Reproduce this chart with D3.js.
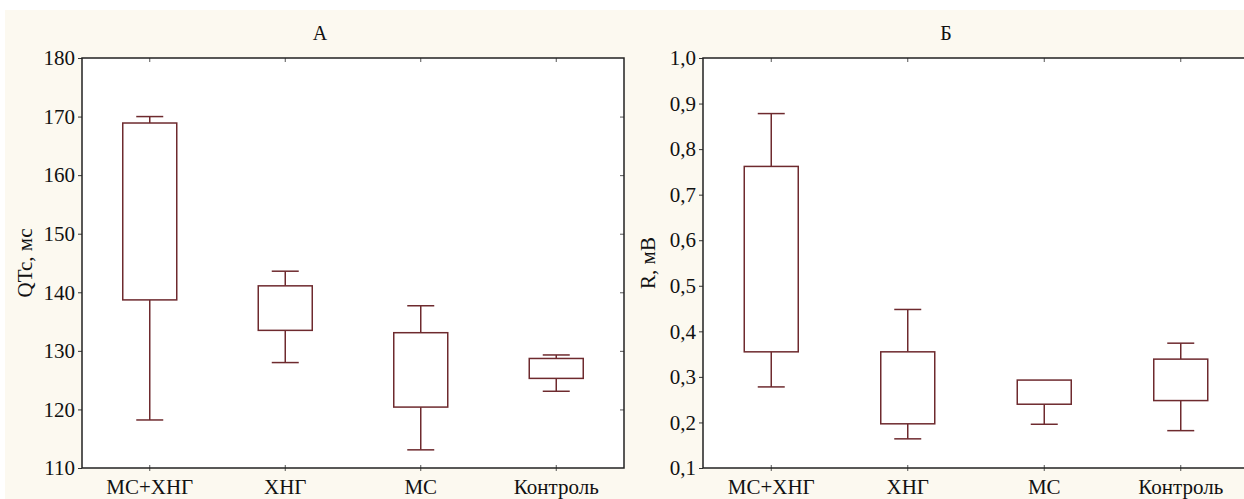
<!DOCTYPE html>
<html>
<head>
<meta charset="utf-8">
<script src="https://cdn.jsdelivr.net/npm/d3@7"></script>
<style>
  html, body { margin: 0; padding: 0; background: #ffffff; }
  svg { display: block; }
  text { font-family: "Liberation Serif", "Times New Roman", serif; fill: #111; }
</style>
</head>
<body>
<svg id="chart" width="1244" height="499"></svg>
<script>
// ---- data ----
const categories = ["МС+ХНГ", "ХНГ", "МС", "Контроль"];

// Panel A: QTc, ms
const qtcMin = [118.2, 128.0, 113.1, 123.1];
const qtcQ1  = [138.7, 133.5, 120.4, 125.3];
const qtcQ3  = [168.9, 141.1, 133.1, 128.7];
const qtcMax = [170.0, 143.6, 137.7, 129.3];
const qtcTicks = [110, 120, 130, 140, 150, 160, 170, 180];

// Panel Б: R, mV
const rMin = [0.278, 0.164, 0.196, 0.182];
const rQ1  = [0.355, 0.197, 0.240, 0.248];
const rQ3  = [0.762, 0.355, 0.293, 0.339];
const rMax = [0.878, 0.448, 0.293, 0.374];
const rTicks = [0.1, 0.2, 0.3, 0.4, 0.5, 0.6, 0.7, 0.8, 0.9, 1.0];

const svg = d3.select("#chart");
const boxColor = "#6e2a2e";
const FONT = "'Liberation Serif', 'Times New Roman', serif";

svg.append("rect").attr("x", 5).attr("y", 10).attr("width", 1239).attr("height", 489)
  .attr("fill", "#fcf9f0");

function panel(opts) {
  const { x0, x1, y0, y1, domain, ticks, fmt, mins, q1s, q3s, maxs, title, titleX, ylabel, ylabelX } = opts;
  const x = d3.scaleBand().domain(categories).range([x0, x1]).padding(0);
  const y = d3.scaleLinear().domain(domain).range([y1, y0]);
  const g = svg.append("g");

  g.append("rect").attr("x", x0).attr("y", y0).attr("width", x1 - x0).attr("height", y1 - y0)
    .attr("fill", "#ffffff");

  // left axis (outward ticks)
  const la = g.append("g").attr("transform", `translate(${x0},0)`)
    .call(d3.axisLeft(y).tickValues(ticks).tickSize(4).tickPadding(3).tickFormat(fmt));
  la.attr("font-family", null).attr("font-size", null);
  la.select(".domain").remove();
  la.selectAll("line").attr("stroke", "#333");
  la.selectAll("text").attr("font-size", 21).attr("fill", "#111").style("font-family", FONT);

  // right axis inner ticks
  const ra = g.append("g").attr("transform", `translate(${x1},0)`)
    .call(d3.axisLeft(y).tickValues(ticks.slice(1, -1)).tickSize(4).tickFormat(""));
  ra.select(".domain").remove();
  ra.selectAll("line").attr("stroke", "#555");

  // top inner ticks
  const ta = g.append("g").attr("transform", `translate(0,${y0})`)
    .call(d3.axisBottom(x).tickSize(4).tickFormat(""));
  ta.select(".domain").remove();
  ta.selectAll("line").attr("stroke", "#555");

  // bottom axis with labels
  const ba = g.append("g").attr("transform", `translate(0,${y1})`)
    .call(d3.axisBottom(x).tickSize(4).tickPadding(7));
  ba.attr("font-family", null).attr("font-size", null);
  ba.select(".domain").remove();
  ba.selectAll("line").attr("stroke", "#555").attr("y1", -3).attr("y2", 3);
  ba.selectAll("text").attr("font-size", 21).attr("fill", "#111").style("font-family", FONT);

  // frame
  g.append("rect").attr("x", x0).attr("y", y0).attr("width", x1 - x0).attr("height", y1 - y0)
    .attr("fill", "none").attr("stroke", "#222").attr("stroke-width", 1.5);

  const bw = 54, cw = 27;
  categories.forEach((c, i) => {
    const cx = x(c) + x.bandwidth() / 2;
    const bg = g.append("g").attr("stroke", boxColor).attr("stroke-width", 1.5).attr("fill", "none");
    if (maxs[i] > q3s[i]) {
      bg.append("line").attr("x1", cx).attr("x2", cx).attr("y1", y(maxs[i])).attr("y2", y(q3s[i]));
      bg.append("line").attr("x1", cx - cw / 2).attr("x2", cx + cw / 2).attr("y1", y(maxs[i])).attr("y2", y(maxs[i]));
    }
    if (mins[i] < q1s[i]) {
      bg.append("line").attr("x1", cx).attr("x2", cx).attr("y1", y(q1s[i])).attr("y2", y(mins[i]));
      bg.append("line").attr("x1", cx - cw / 2).attr("x2", cx + cw / 2).attr("y1", y(mins[i])).attr("y2", y(mins[i]));
    }
    bg.append("rect").attr("x", cx - bw / 2).attr("y", y(q3s[i]))
      .attr("width", bw).attr("height", y(q1s[i]) - y(q3s[i])).attr("fill", "#ffffff");
  });

  svg.append("text").attr("x", titleX).attr("y", 40).attr("text-anchor", "middle")
    .attr("font-size", 20).text(title);

  svg.append("text").attr("transform", `translate(${ylabelX},${(y0 + y1) / 2}) rotate(-90)`)
    .attr("text-anchor", "middle").attr("dy", "0.35em").attr("font-size", 21).text(ylabel);
}

panel({
  x0: 82, x1: 624, y0: 58, y1: 468, domain: [110, 180], ticks: qtcTicks,
  fmt: d3.format("d"), mins: qtcMin, q1s: qtcQ1, q3s: qtcQ3, maxs: qtcMax,
  title: "А", titleX: 320, ylabel: "QTc, мс", ylabelX: 25
});

panel({
  x0: 703, x1: 1249, y0: 58, y1: 468, domain: [0.1, 1.0], ticks: rTicks,
  fmt: v => d3.format(".1f")(v).replace(".", ","), mins: rMin, q1s: rQ1, q3s: rQ3, maxs: rMax,
  title: "Б", titleX: 946, ylabel: "R, мВ", ylabelX: 648
});
</script>
</body>
</html>
